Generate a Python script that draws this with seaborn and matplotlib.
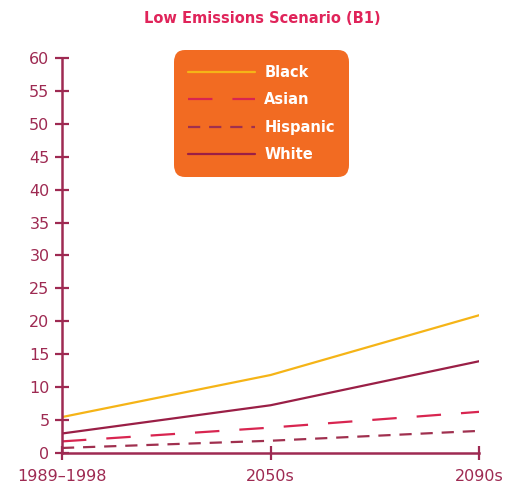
import matplotlib
matplotlib.use("Agg")
import matplotlib.pyplot as plt
import pandas as pd
import seaborn as sns

# data
periods  = ["1989–1998", "2050s", "2090s"]
groups   = ["Black", "Asian", "Hispanic", "White"]
black    = [5.4, 11.8, 20.9]
asian    = [1.7, 3.8, 6.2]
hispanic = [0.7, 1.8, 3.3]
white    = [2.9, 7.2, 13.9]
y_ticks  = list(range(0, 61, 5))

AXIS = "#9E2A52"
colors = {"Black": "#F5B417", "Asian": "#D82550", "Hispanic": "#A0304F", "White": "#9A1F46"}
dashes = {"Black": "", "Asian": (11, 9), "Hispanic": (5.5, 4), "White": ""}

df = pd.DataFrame({
    "x": list(range(len(periods))) * len(groups),
    "value": black + asian + hispanic + white,
    "group": [g for g in groups for _ in periods],
})

sns.set_style("white")
plt.rcParams["font.family"] = ["DejaVu Sans"]

fig = plt.figure(figsize=(5.12, 4.93), dpi=100)
ax = fig.add_axes([0.121, 0.082, 0.815, 0.8])

sns.lineplot(data=df, x="x", y="value", hue="group", style="group",
             palette=colors, dashes=dashes, hue_order=groups, style_order=groups,
             linewidth=1.6, ax=ax)

ax.set_xlim(0, 2)
ax.set_ylim(0, 60)
ax.set_xticks(range(len(periods)))
ax.set_xticklabels(periods)
ax.set_yticks(y_ticks)
ax.set_xlabel("")
ax.set_ylabel("")

for side in ["top", "right"]:
    ax.spines[side].set_visible(False)
for side in ["left", "bottom"]:
    ax.spines[side].set_color(AXIS)
    ax.spines[side].set_linewidth(1.8)

ax.tick_params(axis="both", direction="inout", length=10, width=1.6,
               color=AXIS, labelcolor=AXIS, labelsize=11.5,
               bottom=True, left=True)
ax.tick_params(axis="y", pad=4)
ax.tick_params(axis="x", pad=7, labelsize=11.5)
for lbl in ax.get_xticklabels() + ax.get_yticklabels():
    lbl.set_fontweight("medium")

fig.text(0.512, 0.963, "Low Emissions Scenario (B1)", ha="center", va="center",
         color="#E0245A", fontsize=10.5, fontweight="bold")

leg = ax.legend(loc="upper left", bbox_to_anchor=(0.268, 1.02), frameon=True,
                fancybox=True, facecolor="#F26B22", edgecolor="none", framealpha=1,
                handlelength=4.6, handletextpad=0.6, labelspacing=0.85,
                borderpad=1.0, borderaxespad=0, fontsize=10.5)
for t in leg.get_texts():
    t.set_color("white")
    t.set_fontweight("bold")
leg.get_frame().set_boxstyle("round", pad=0, rounding_size=0.8)

fig.savefig("out.png", dpi=100)
